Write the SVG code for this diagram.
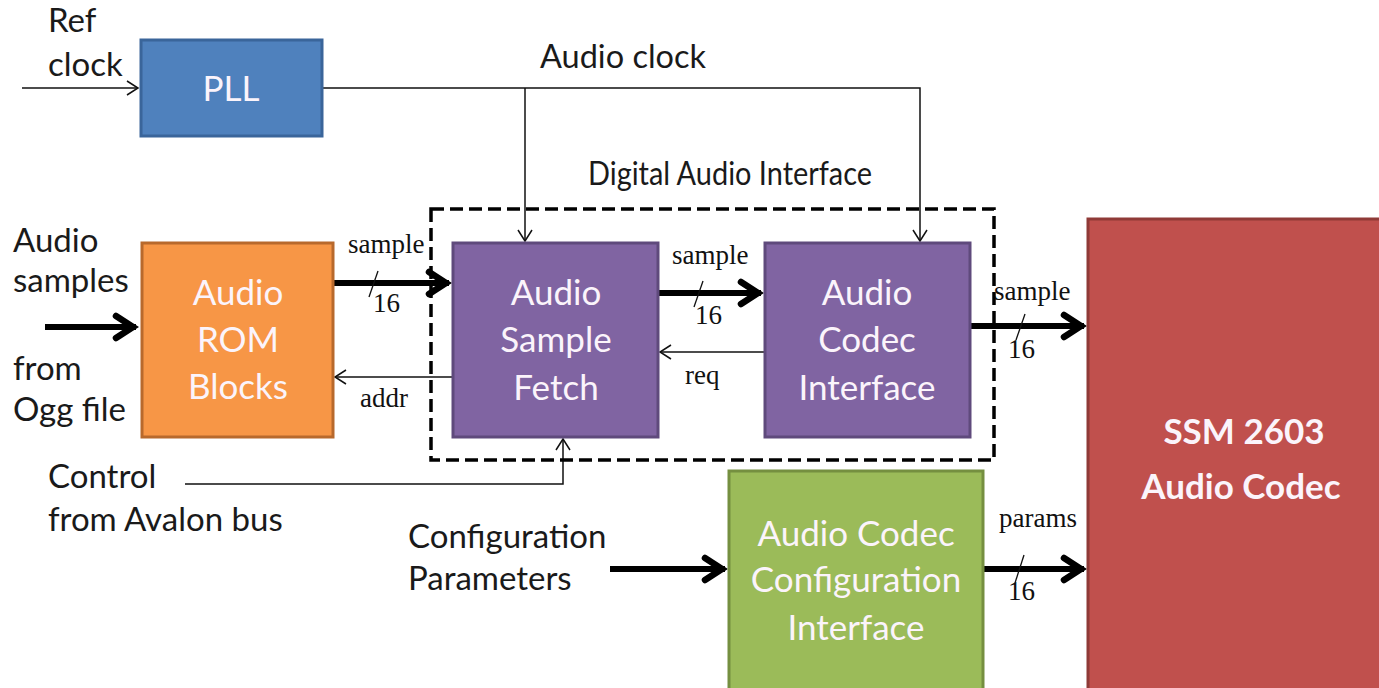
<svg xmlns="http://www.w3.org/2000/svg" width="1379" height="688" viewBox="0 0 1379 688">
<style>
.lbl{font-family:Lato,"Liberation Sans",sans-serif;font-size:33px;fill:#1a1a1a}
.nt{font-family:Lato,"Liberation Sans",sans-serif;font-size:35px;fill:#fbf4fb;text-anchor:middle}
.sm{font-family:"Liberation Serif",serif;font-size:27px;fill:#111}
.thin{stroke:#111;stroke-width:1.5;fill:none}
.thick{stroke:#000;stroke-width:6;fill:none}
.slash{stroke:#111;stroke-width:1.3}
</style>
<defs>
<marker id="ah" markerUnits="userSpaceOnUse" viewBox="-14 -10 18 20" markerWidth="18" markerHeight="20" refX="0" refY="0" orient="auto" overflow="visible">
<path d="M-11,-7 L0,0 L-11,7" fill="none" stroke="#111" stroke-width="1.5"/>
</marker>
<marker id="AH" markerUnits="userSpaceOnUse" viewBox="-26 -16 32 32" markerWidth="32" markerHeight="32" refX="0" refY="0" orient="auto" overflow="visible">
<path d="M-20,-11 L-3,0 L-20,11" fill="none" stroke="#000" stroke-width="6.5" stroke-linecap="round" stroke-miterlimit="10"/>
</marker>
</defs>
<rect width="1379" height="688" fill="#fff"/>

<g id="connectors">
<path class="thin" d="M22,88 H138" marker-end="url(#ah)"/>
<path class="thin" d="M322,88 H920 V241" marker-end="url(#ah)"/>
<path class="thin" d="M525,88 V241" marker-end="url(#ah)"/>
<path class="thick" d="M45,327 H136" marker-end="url(#AH)"/>
<path class="thick" d="M333,283 H449" marker-end="url(#AH)"/>
<path class="thick" d="M658,293 H761" marker-end="url(#AH)"/>
<path class="thick" d="M970,326 H1084" marker-end="url(#AH)"/>
<path class="thin" d="M765,352 H660" marker-end="url(#ah)"/>
<path class="thin" d="M453,377 H335" marker-end="url(#ah)"/>
<path class="thin" d="M185,484 H563 V439" marker-end="url(#ah)"/>
<path class="thick" d="M610,569 H725" marker-end="url(#AH)"/>
<path class="thick" d="M983,569 H1084" marker-end="url(#AH)"/>
<line class="slash" x1="369" y1="297" x2="378" y2="271"/>
<line class="slash" x1="694" y1="307" x2="703" y2="281"/>
<line class="slash" x1="1016" y1="340" x2="1025" y2="314"/>
<line class="slash" x1="1015" y1="583" x2="1024" y2="555"/>
<text class="sm" x="348" y="253">sample</text>
<text class="sm" x="373" y="312">16</text>
<text class="sm" x="672" y="264">sample</text>
<text class="sm" x="695" y="324">16</text>
<text class="sm" x="994" y="300">sample</text>
<text class="sm" x="1008" y="358">16</text>
<text class="sm" x="685" y="384">req</text>
<text class="sm" x="360" y="407">addr</text>
<text class="sm" x="999" y="527">params</text>
<text class="sm" x="1008" y="600">16</text>
</g>

<g id="dai">
<rect x="431" y="209" width="563" height="251" fill="none" stroke="#000" stroke-width="3.5" stroke-dasharray="13,6"/>
<text class="lbl" x="730" y="185" text-anchor="middle" font-size="27" textLength="284" lengthAdjust="spacingAndGlyphs">Digital Audio Interface</text>
</g>

<g id="labels">
<text class="lbl" x="48" y="32">Ref</text>
<text class="lbl" x="48" y="76">clock</text>
<text class="lbl" x="540" y="68" textLength="166" lengthAdjust="spacingAndGlyphs">Audio clock</text>
<text class="lbl" x="13" y="252">Audio</text>
<text class="lbl" x="13" y="292">samples</text>
<text class="lbl" x="13" y="380">from</text>
<text class="lbl" x="13" y="421">Ogg file</text>
<text class="lbl" x="48" y="488">Control</text>
<text class="lbl" x="48" y="531">from Avalon bus</text>
<text class="lbl" x="408" y="548">Configuration</text>
<text class="lbl" x="408" y="590">Parameters</text>
</g>

<g id="pll">
<rect x="141" y="40" width="181" height="96" fill="#4f81bd" stroke="#3a659a" stroke-width="3"/>
<text class="nt" x="231" y="101" font-size="32">PLL</text>
</g>
<g id="rom">
<rect x="142" y="243" width="191" height="194" fill="#f79646" stroke="#b8692c" stroke-width="3"/>
<text class="nt" x="238" y="305">Audio</text>
<text class="nt" x="238" y="352">ROM</text>
<text class="nt" x="238" y="399">Blocks</text>
</g>
<g id="fetch">
<rect x="453" y="243" width="205" height="194" fill="#8064a2" stroke="#5f4a7c" stroke-width="3"/>
<text class="nt" x="556" y="305">Audio</text>
<text class="nt" x="556" y="352">Sample</text>
<text class="nt" x="556" y="400">Fetch</text>
</g>
<g id="codecif">
<rect x="765" y="243" width="205" height="194" fill="#8064a2" stroke="#5f4a7c" stroke-width="3"/>
<text class="nt" x="867" y="305">Audio</text>
<text class="nt" x="867" y="352">Codec</text>
<text class="nt" x="867" y="400">Interface</text>
</g>
<g id="config">
<rect x="729" y="471" width="254" height="220" fill="#9bbb59" stroke="#758f40" stroke-width="3"/>
<text class="nt" x="856" y="546" fill="#fbfbe8">Audio Codec</text>
<text class="nt" x="856" y="592" fill="#fbfbe8">Configuration</text>
<text class="nt" x="856" y="640" fill="#fbfbe8">Interface</text>
</g>
<g id="ssm">
<rect x="1088" y="219" width="295" height="475" fill="#c0504d" stroke="#8f3a37" stroke-width="3"/>
<text class="nt" x="1244" y="444" font-size="46" font-weight="bold">SSM 2603</text>
<text class="nt" x="1241" y="499" font-size="46" font-weight="bold">Audio Codec</text>
</g>
</svg>
